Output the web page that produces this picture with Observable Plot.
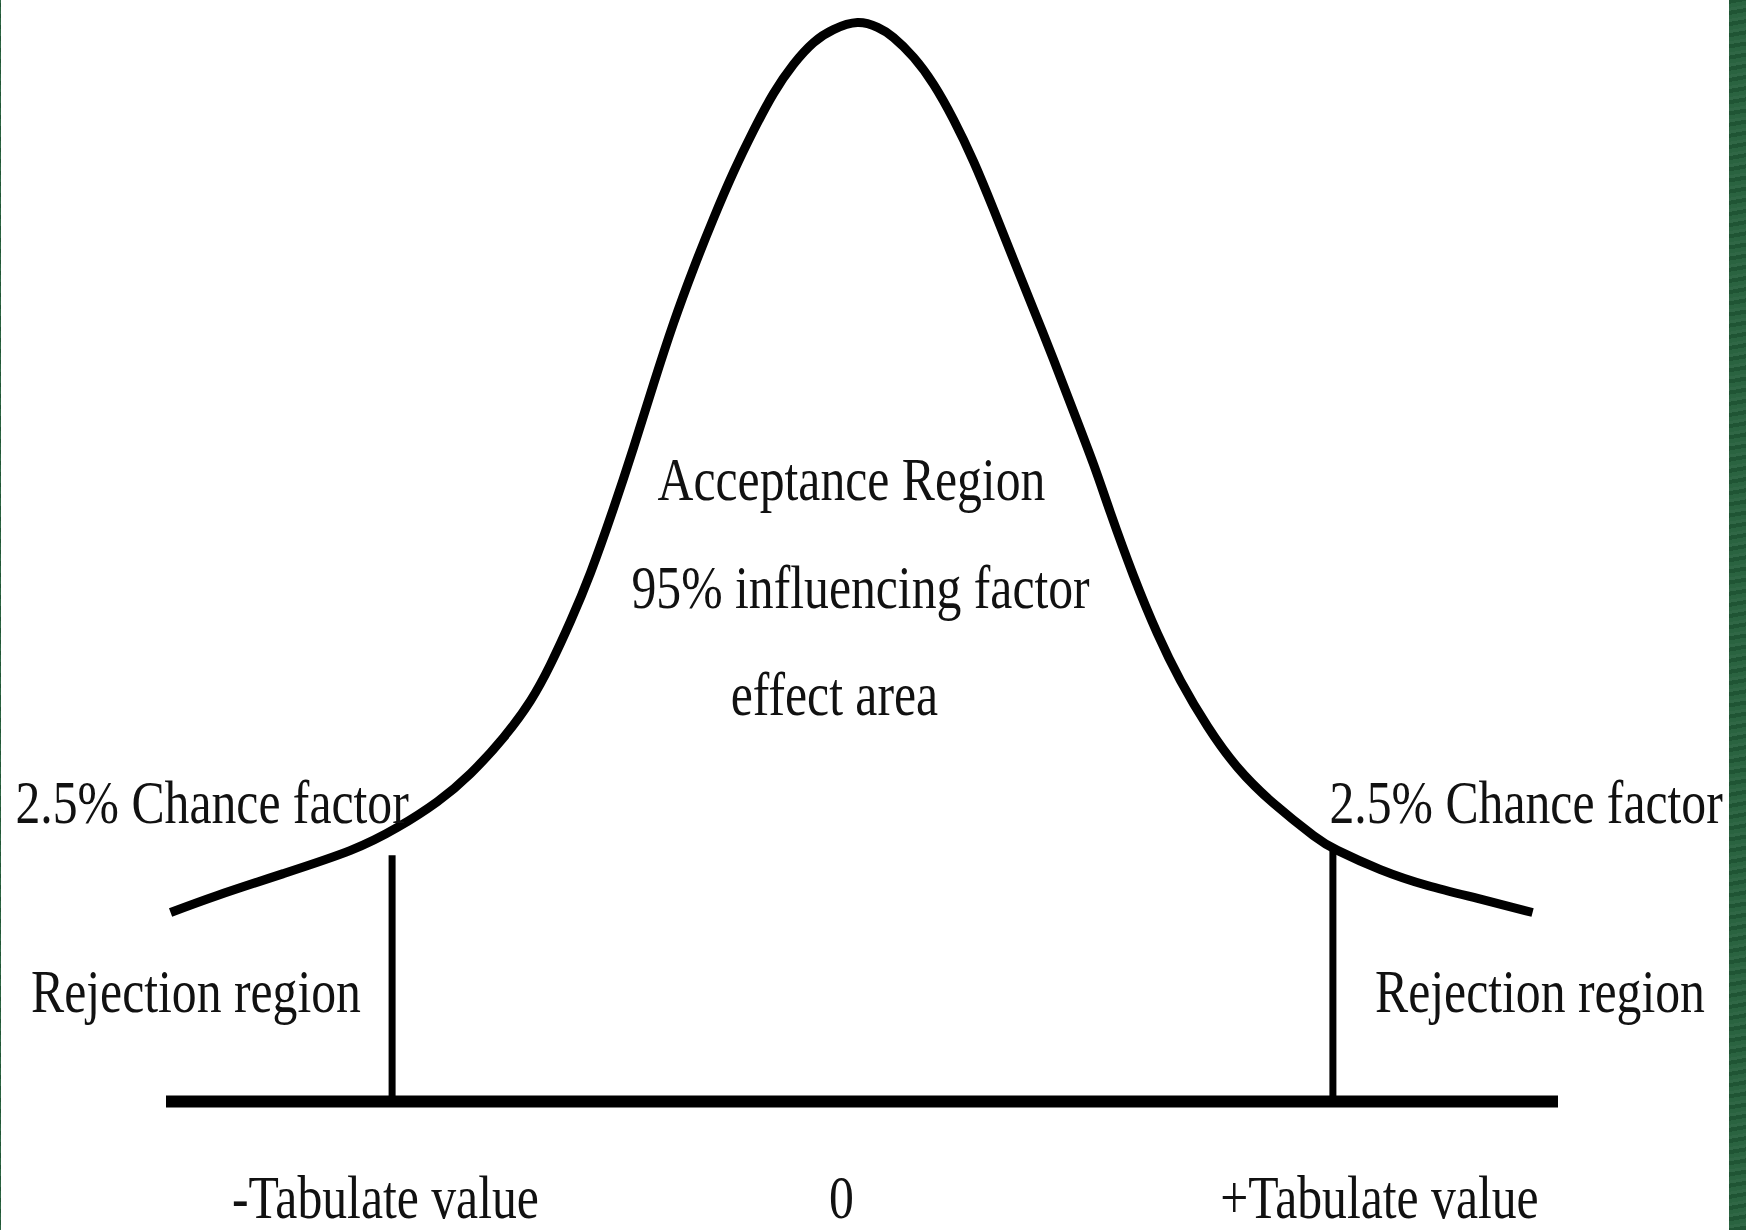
<!DOCTYPE html>
<html>
<head>
<meta charset="utf-8">
<script src="https://cdn.jsdelivr.net/npm/d3@7"></script>
<script src="https://cdn.jsdelivr.net/npm/@observablehq/plot@0.6"></script>
<style>
  html, body { margin: 0; padding: 0; width: 1746px; height: 1230px; overflow: hidden;
    background: #235e3a;
    background-image: repeating-linear-gradient(170deg, rgba(255,255,255,0.06) 0 3px, rgba(0,0,0,0.10) 3px 7px, rgba(255,255,255,0.03) 7px 11px); }
  #chart { position: absolute; left: 1px; top: 0; }
</style>
</head>
<body>
<div id="chart"></div>
<script>
// Curve (x in standard units, y in density units)
const curveX = [-2.883,-2.688,-2.413,-2.133,-1.938,-1.771,-1.633,-1.496,-1.383,-1.300,-1.217,-1.133,-1.042,-0.954,-0.871,-0.788,-0.704,-0.621,-0.538,-0.454,-0.371,-0.288,-0.204,-0.121,-0.021,0.063,0.129,0.213,0.296,0.379,0.463,0.546,0.629,0.713,0.796,0.879,0.963,1.033,1.129,1.229,1.325,1.438,1.563,1.713,1.879,1.979,2.158,2.354,2.563,2.792];
const curveY = [0.0700,0.0763,0.0844,0.0930,0.1015,0.1111,0.1215,0.1348,0.1485,0.1619,0.1778,0.1959,0.2185,0.2422,0.2656,0.2881,0.3085,0.3270,0.3441,0.3596,0.3733,0.3841,0.3922,0.3970,0.3996,0.3978,0.3941,0.3867,0.3767,0.3637,0.3481,0.3304,0.3119,0.2933,0.2748,0.2556,0.2359,0.2181,0.1948,0.1733,0.1559,0.1389,0.1237,0.1104,0.0985,0.0930,0.0859,0.0800,0.0752,0.0700];

// Critical (tabulate) values and the top of their marker lines
const tabX = [-1.96, 1.96];
const tabTop = [0.091, 0.093];

// Horizontal axis line extent
const axisStart = [-2.90];
const axisEnd = [2.90];

// Labels
const labelText = ["Acceptance Region","95% influencing factor","effect area","2.5% Chance factor","2.5% Chance factor","Rejection region","Rejection region","-Tabulate value","0","+Tabulate value"];
const labelX = [-0.046,-0.008,-0.117,-2.710,2.765,-2.777,2.823,-1.988,-0.088,2.154];
const labelY = [0.2226,0.1826,0.1430,0.1033,0.1033,0.0330,0.0330,-0.0430,-0.0430,-0.0430];

const curve = curveX.map((x, i) => ({x, y: curveY[i]}));
const tabs = tabX.map((x, i) => ({x, top: tabTop[i]}));
const axisLine = axisStart.map((x1, i) => ({x1, x2: axisEnd[i], y: 0}));
const labels = labelText.map((t, i) => ({t, x: labelX[i], y: labelY[i]}));

const plot = Plot.plot({
  width: 1728,
  height: 1230,
  marginLeft: 0,
  marginRight: 0,
  marginTop: 21,
  marginBottom: 129,
  x: {domain: [-3.5875, 3.6125], axis: null},
  y: {domain: [0, 0.4], axis: null},
  style: {background: "white", fontFamily: "'Liberation Serif', 'Times New Roman', serif"},
  marks: [
    Plot.ruleY(axisLine, {x1: "x1", x2: "x2", y: "y", stroke: "black", strokeWidth: 12}),
    Plot.ruleX(tabs, {x: "x", y1: 0, y2: "top", stroke: "black", strokeWidth: 7}),
    Plot.line(curve, {x: "x", y: "y", stroke: "black", strokeWidth: 9, curve: "natural", strokeLinecap: "butt"}),
    Plot.text(labels, {x: "x", y: "y", text: "t", fontSize: 61, fill: "#111", textAnchor: "middle", lineAnchor: "bottom"})
  ]
});

// Narrow the serif glyphs horizontally, as in the original artwork
const S = 0.815;
plot.querySelectorAll('g[aria-label="text"] text').forEach(t => {
  const tr = t.getAttribute("transform") || "";
  const x = +t.getAttribute("x") || 0;
  t.setAttribute("transform", `${tr} translate(${x},0) scale(${S},1) translate(${-x},0)`);
});

document.getElementById("chart").appendChild(plot);
</script>
</body>
</html>
